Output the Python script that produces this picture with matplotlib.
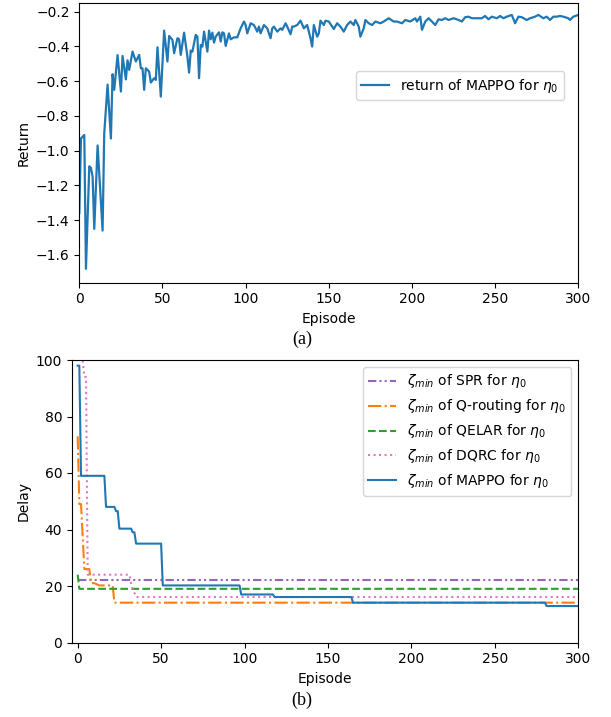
import matplotlib
matplotlib.use("Agg")
import matplotlib.pyplot as plt

# ---------------- data: (a) return of MAPPO ----------------
ret_episode = [0, 1, 3, 4, 6, 7, 8, 9, 11, 14, 15, 17, 19, 20, 21, 23, 25, 26, 28, 29,
               30, 32, 34, 36, 37, 38, 39, 40, 42, 43, 45, 46, 47, 49, 51, 53, 54, 56, 57, 59,
               60, 61, 63, 65, 66, 67, 68, 70, 71, 72, 73, 74, 75, 77, 78, 79, 80, 81, 82, 84,
               85, 86, 87, 88, 90, 91, 93, 95, 97, 99, 100, 101, 103, 105, 107, 108, 109, 111, 113, 115,
               116, 117, 119, 121, 122, 124, 125, 127, 128, 129, 131, 133, 135, 137, 139, 140, 141, 143, 144, 145,
               147, 148, 150, 152, 153, 155, 157, 159, 161, 163, 165, 166, 168, 169, 171, 172, 174, 176, 178, 181,
               183, 186, 189, 191, 194, 196, 199, 202, 203, 205, 206, 208, 210, 212, 214, 216, 218, 220, 222, 225,
               228, 230, 232, 234, 236, 239, 242, 244, 246, 248, 251, 253, 255, 257, 260, 262, 264, 266, 269, 271,
               274, 276, 279, 281, 283, 285, 287, 289, 291, 294, 295, 297, 300]
ret_value = [-1.36, -0.93, -0.91, -1.68, -1.09, -1.10, -1.15, -1.45, -0.97, -1.46, -0.90, -0.62, -0.93, -0.56, -0.65, -0.45, -0.66, -0.455, -0.59, -0.48,
             -0.535, -0.43, -0.487, -0.449, -0.526, -0.526, -0.65, -0.526, -0.545, -0.608, -0.583, -0.593, -0.405, -0.689, -0.309, -0.487, -0.34, -0.363, -0.439, -0.353,
             -0.359, -0.449, -0.321, -0.459, -0.551, -0.424, -0.43, -0.334, -0.344, -0.583, -0.392, -0.401, -0.315, -0.43, -0.309, -0.359, -0.321, -0.378, -0.344, -0.319,
             -0.372, -0.319, -0.325, -0.397, -0.325, -0.359, -0.348, -0.348, -0.296, -0.257, -0.277, -0.325, -0.267, -0.277, -0.315, -0.286, -0.325, -0.277, -0.296, -0.353,
             -0.296, -0.286, -0.315, -0.296, -0.305, -0.267, -0.286, -0.330, -0.286, -0.286, -0.277, -0.252, -0.296, -0.277, -0.353, -0.401, -0.277, -0.344, -0.325, -0.252,
             -0.277, -0.252, -0.257, -0.286, -0.30, -0.267, -0.286, -0.315, -0.277, -0.257, -0.277, -0.248, -0.286, -0.344, -0.296, -0.248, -0.267, -0.277, -0.257, -0.267,
             -0.257, -0.238, -0.257, -0.257, -0.267, -0.248, -0.257, -0.238, -0.257, -0.229, -0.305, -0.257, -0.238, -0.257, -0.277, -0.244, -0.248, -0.238, -0.248, -0.238,
             -0.248, -0.257, -0.232, -0.229, -0.238, -0.238, -0.238, -0.225, -0.244, -0.229, -0.238, -0.225, -0.238, -0.229, -0.219, -0.267, -0.229, -0.232, -0.248, -0.238,
             -0.229, -0.219, -0.238, -0.229, -0.248, -0.229, -0.229, -0.225, -0.229, -0.238, -0.248, -0.229, -0.219]

# ---------------- data: (b) minimum delay ----------------
spr_episode = [0, 300]
spr_delay = [22, 22]
qr_episode = [0, 1, 2, 4, 7, 8, 10, 13, 21, 22, 300]
qr_delay = [73, 49, 49, 26, 26, 21, 21, 20.2, 20.2, 14.1, 14.1]
qelar_episode = [0, 1, 300]
qelar_delay = [24, 19, 19]
dqrc_episode = [0, 3, 4, 5, 6, 31, 32, 33, 35, 300]
dqrc_delay = [100, 100, 94, 94, 24, 24, 21, 19, 16.1, 16.1]
mappo_episode = [0, 1, 2, 16, 17, 22, 23, 24, 25, 32, 33, 34, 35, 50, 51, 97, 98, 117, 118, 164, 165, 280, 281, 300]
mappo_delay = [98, 98, 59, 59, 48, 48, 46.5, 46.5, 40.3, 40.3, 39, 39, 35, 35, 20.2, 20.2, 17, 17, 16.1, 16.1, 14.1, 14.1, 12.9, 12.9]

labels_b = [r'$\zeta_{min}$ of SPR for $\eta_0$',
            r'$\zeta_{min}$ of Q-routing for $\eta_0$',
            r'$\zeta_{min}$ of QELAR for $\eta_0$',
            r'$\zeta_{min}$ of DQRC for $\eta_0$',
            r'$\zeta_{min}$ of MAPPO for $\eta_0$']

W, H = 611, 717
fig = plt.figure(figsize=(W / 100, H / 100), dpi=100)

def px_axes(l, t, r, b):
    return fig.add_axes([l / W, 1 - b / H, (r - l) / W, (b - t) / H])

# ---- (a) ----
ax1 = px_axes(79.3, 3.3, 578.3, 282.7)
ax1.plot(ret_episode, ret_value, color='#1f77b4', lw=1.6, label=r'return of MAPPO for $\eta_0$')
ax1.set_xlim(0, 300)
ax1.set_ylim(-1.760, -0.152)
ax1.set_xticks(range(0, 301, 50))
ax1.set_yticks([-1.6, -1.4, -1.2, -1.0, -0.8, -0.6, -0.4, -0.2])
ax1.set_xlabel('Episode')
ax1.set_ylabel('Return')
ax1.legend(loc='upper right', bbox_to_anchor=((564.3 - 79.3) / 499.0, 1 - (71 - 3.3) / 279.4),
           borderaxespad=0)

# ---- (b) ----
ax2 = px_axes(72, 360, 578.3, 642.5)
ax2.plot(spr_episode, spr_delay, color='#9467bd', lw=1.5, linestyle=(0, (4, 1.5, 1, 1.5, 1, 1.5)), label=labels_b[0])
ax2.plot(qr_episode, qr_delay, color='#ff7f0e', lw=1.5, linestyle='-.', label=labels_b[1])
ax2.plot(qelar_episode, qelar_delay, color='#2ca02c', lw=1.5, linestyle='--', label=labels_b[2])
ax2.plot(dqrc_episode, dqrc_delay, color='#e377c2', lw=1.5, linestyle=':', label=labels_b[3])
ax2.plot(mappo_episode, mappo_delay, color='#1f77b4', lw=1.5, linestyle='-', label=labels_b[4])
ax2.set_xlim(-3.4, 300)
ax2.set_ylim(0, 100)
ax2.set_xticks(range(0, 301, 50))
ax2.set_yticks(range(0, 101, 20))
ax2.set_xlabel('Episode')
ax2.set_ylabel('Delay')
ax2.legend(loc='upper right')

fig.text(302 / W, 1 - 339 / H, '(a)', fontfamily='Liberation Serif', fontsize=13, ha='center', va='center')
fig.text(302 / W, 1 - 700 / H, '(b)', fontfamily='Liberation Serif', fontsize=13, ha='center', va='center')

fig.savefig('out.png', dpi=100)
